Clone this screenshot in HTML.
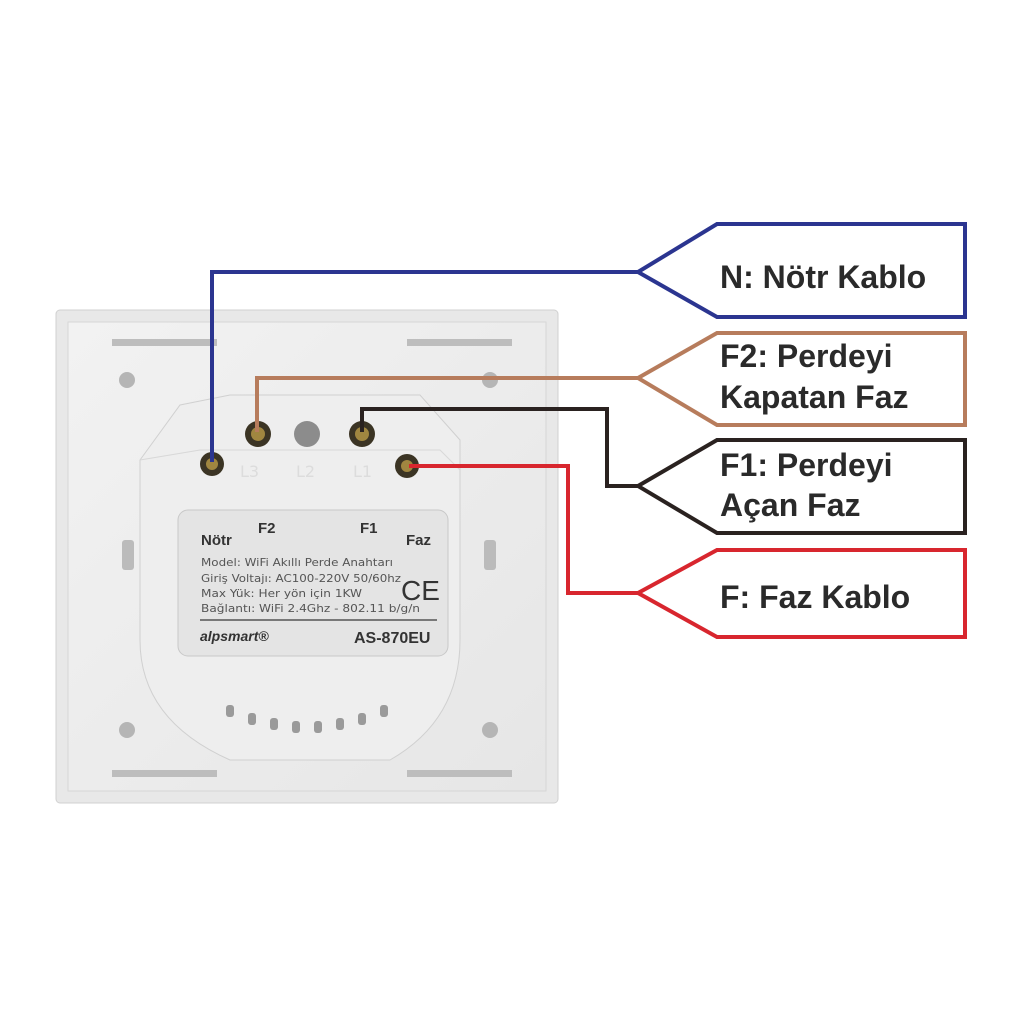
<!DOCTYPE html>
<html><head><meta charset="utf-8"><style>
html,body{margin:0;padding:0;background:#fff;width:1024px;height:1024px;overflow:hidden}
svg{display:block}
.t{font-family:"Liberation Sans",sans-serif;font-weight:bold;fill:#2a2a2a;font-size:32px}
.l{font-family:"DejaVu Sans","Liberation Sans",sans-serif;fill:#555;font-size:11px}
</style></head><body>
<svg width="1024" height="1024" viewBox="0 0 1024 1024">
<defs>
<linearGradient id="pg" x1="0" y1="0" x2="1" y2="1"><stop offset="0" stop-color="#f2f2f2"/><stop offset="1" stop-color="#e6e6e6"/></linearGradient>
</defs>
<rect x="56" y="310" width="502" height="493" rx="4" fill="#e8e8e8" stroke="#d0d0d0"/>
<rect x="68" y="322" width="478" height="469" fill="url(#pg)" stroke="#d6d6d6"/>
<rect x="112" y="339" width="105" height="7" fill="#bdbdbd"/>
<rect x="407" y="339" width="105" height="7" fill="#bdbdbd"/>
<rect x="112" y="770" width="105" height="7" fill="#bdbdbd"/>
<rect x="407" y="770" width="105" height="7" fill="#bdbdbd"/>
<circle cx="127" cy="380" r="8" fill="#b5b5b5"/>
<circle cx="490" cy="380" r="8" fill="#b5b5b5"/>
<circle cx="127" cy="730" r="8" fill="#b5b5b5"/>
<circle cx="490" cy="730" r="8" fill="#b5b5b5"/>
<rect x="122" y="540" width="12" height="30" rx="3" fill="#bbb"/>
<rect x="484" y="540" width="12" height="30" rx="3" fill="#bbb"/>
<path d="M180 405 L230 395 L420 395 L460 440 L460 640 Q460 720 390 760 L230 760 Q140 720 140 640 L140 460 Z" fill="#eeeeee" stroke="#d0d0d0"/>
<path d="M140 460 L200 450 L440 450 L460 470" fill="none" stroke="#d8d8d8"/>
<g fill="#9a9a9a">
<rect x="226" y="705" width="8" height="12" rx="3"/><rect x="248" y="713" width="8" height="12" rx="3"/><rect x="270" y="718" width="8" height="12" rx="3"/><rect x="292" y="721" width="8" height="12" rx="3"/><rect x="314" y="721" width="8" height="12" rx="3"/><rect x="336" y="718" width="8" height="12" rx="3"/><rect x="358" y="713" width="8" height="12" rx="3"/><rect x="380" y="705" width="8" height="12" rx="3"/>
</g>
<g>
<circle cx="258" cy="434" r="13" fill="#3b3424"/><circle cx="258" cy="434" r="7" fill="#a08640"/>
<circle cx="307" cy="434" r="13" fill="#8c8c8c"/>
<circle cx="362" cy="434" r="13" fill="#3b3424"/><circle cx="362" cy="434" r="7" fill="#a08640"/>
<circle cx="212" cy="464" r="12" fill="#3b3424"/><circle cx="212" cy="464" r="6" fill="#a08640"/>
<circle cx="407" cy="466" r="12" fill="#3b3424"/><circle cx="407" cy="466" r="6" fill="#a08640"/>
</g>
<g class="l" style="fill:#dcdcdc;font-size:16px"><text x="240" y="477">L3</text><text x="296" y="477">L2</text><text x="353" y="477">L1</text></g>
<rect x="178" y="510" width="270" height="146" rx="10" fill="#e4e4e4" stroke="#c8c8c8"/>
<g style="font-family:'Liberation Sans',sans-serif;font-weight:bold;fill:#333;font-size:15px"><text x="201" y="545">Nötr</text><text x="258" y="533">F2</text><text x="360" y="533">F1</text><text x="406" y="545">Faz</text></g>
<g class="l"><text x="201" y="566" textLength="192" lengthAdjust="spacingAndGlyphs">Model: WiFi Akıllı Perde Anahtarı</text><text x="201" y="582" textLength="200" lengthAdjust="spacingAndGlyphs">Giriş Voltajı: AC100-220V 50/60hz</text><text x="201" y="597" textLength="161" lengthAdjust="spacingAndGlyphs">Max Yük: Her yön için 1KW</text><text x="201" y="612" textLength="219" lengthAdjust="spacingAndGlyphs">Bağlantı: WiFi 2.4Ghz - 802.11 b/g/n</text></g>
<text x="401" y="600" style="font-family:'Liberation Sans',sans-serif;font-size:28px;fill:#333">CE</text>
<line x1="200" y1="620" x2="437" y2="620" stroke="#555" stroke-width="1.5"/>
<text x="200" y="641" style="font-family:'Liberation Sans',sans-serif;font-weight:bold;font-style:italic;fill:#333;font-size:14px">alpsmart®</text>
<text x="354" y="643" style="font-family:'Liberation Sans',sans-serif;font-weight:bold;fill:#333;font-size:16px">AS-870EU</text>
<g fill="none" stroke-width="4" stroke-linejoin="miter">
<polyline points="212,462 212,272 640,272" stroke="#2b3590"/>
<polyline points="257,432 257,378 640,378" stroke="#b77c5c"/>
<polyline points="362,432 362,409 607,409 607,486 640,486" stroke="#2a2220"/>
<polyline points="409,466 568,466 568,593 640,593" stroke="#d8262e"/>
</g>
<g fill="#fff" stroke-width="4">
<polygon points="638,272 717,224 965,224 965,317 717,317" stroke="#2b3590"/>
<polygon points="638,378 717,333 965,333 965,425 717,425" stroke="#b77c5c"/>
<polygon points="638,486 717,440 965,440 965,533 717,533" stroke="#2a2220"/>
<polygon points="638,593 717,550 965,550 965,637 717,637" stroke="#d8262e"/>
</g>
<text class="t" x="720" y="288">N: Nötr Kablo</text>
<text class="t" x="720" y="367">F2: Perdeyi</text>
<text class="t" x="720" y="408">Kapatan Faz</text>
<text class="t" x="720" y="476">F1: Perdeyi</text>
<text class="t" x="720" y="516">Açan Faz</text>
<text class="t" x="720" y="608">F: Faz Kablo</text>
</svg>
</body></html>
